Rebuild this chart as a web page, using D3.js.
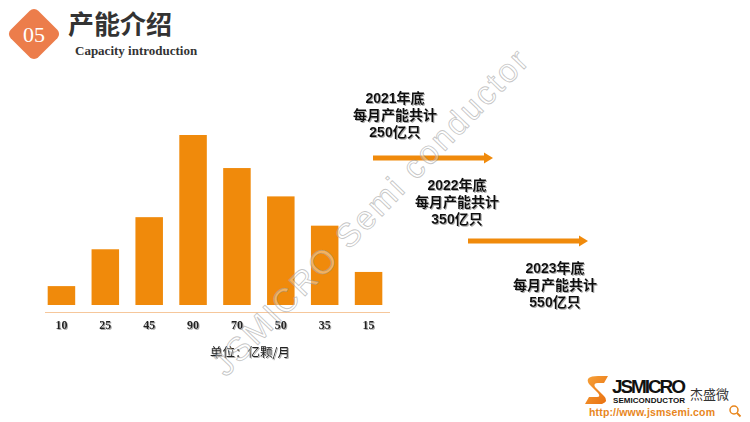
<!DOCTYPE html>
<html><head><meta charset="utf-8">
<script src="https://cdn.jsdelivr.net/npm/d3@7"></script>
<style>
html,body{margin:0;padding:0;background:#fff;}
svg{display:block;}
</style></head>
<body>
<svg id="c" width="750" height="422"></svg>
<script>
// ---- data ----
const categories = ["c1","c2","c3","c4","c5","c6","c7","c8"];
const tickLabels = ["10","25","45","90","70","50","35","15"];
const barValues = [10, 29.5, 46.5, 90, 72.5, 57.5, 42, 17.5];
const unitLabel = "单位：亿颗/月";
const milestoneYears = ["2021年底","2022年底","2023年底"];
const milestoneTotals = ["250亿只","350亿只","550亿只"];
const milestoneMid = "每月产能共计";

const svg = d3.select("#c");
const orange = "#F08A0B";
const defs = svg.append("defs");
const f = defs.append("filter").attr("id","sh").attr("x","-10%").attr("y","-20%").attr("width","130%").attr("height","150%");
f.append("feDropShadow").attr("dx",1).attr("dy",1).attr("stdDeviation",0.7)
  .attr("flood-color","#888").attr("flood-opacity",0.7);

// ---- header ----
const hdr = svg.append("g");
hdr.append("rect").attr("x",-19.5).attr("y",-19.5).attr("width",39).attr("height",39)
  .attr("rx",6).attr("fill","#EC7D4B")
  .attr("transform","translate(34,34) rotate(45)");
hdr.append("text").attr("x",34).attr("y",42).attr("text-anchor","middle")
  .attr("font-family","Liberation Serif, serif").attr("font-size",22).attr("fill","#fff").text("05");
hdr.append("text").attr("x",68).attr("y",34)
  .attr("font-family","Noto Sans CJK SC, sans-serif").attr("font-weight","bold")
  .attr("font-size",26).attr("fill","#333").text("产能介绍");
hdr.append("text").attr("x",75).attr("y",55)
  .attr("font-family","Liberation Serif, serif").attr("font-weight","bold")
  .attr("font-size",13).attr("fill","#333").text("Capacity introduction");

// ---- bar chart ----
const x = d3.scaleBand().domain(categories).range([39.5, 390.5])
  .paddingInner(0.373).paddingOuter(0.1865);
const y = d3.scaleLinear().domain([0, 90]).range([305, 135]);

svg.append("g").selectAll("rect").data(barValues).join("rect")
  .attr("x",(d,i)=>x(categories[i]))
  .attr("y",d=>y(d))
  .attr("width",x.bandwidth())
  .attr("height",d=>y(0)-y(d))
  .attr("fill",orange);

const axis = d3.axisBottom(x).tickSize(0).tickPadding(8)
  .tickFormat((d,i)=>tickLabels[i]);
const ag = svg.append("g").attr("transform","translate(0,312.5)").call(axis);
ag.select(".domain").attr("stroke","#F6C79B").attr("stroke-width",1.2)
  .attr("d","M45,0H390");
ag.selectAll("text").attr("font-family","Liberation Serif, serif")
  .attr("font-weight","bold").attr("filter","url(#sh)")
  .attr("font-size",12).attr("fill","#222");

svg.append("text").attr("x",250).attr("y",357).attr("text-anchor","middle")
  .attr("font-family","Noto Sans CJK SC, sans-serif").attr("font-size",12.5)
  .attr("filter","url(#sh)")
  .attr("fill","#222").text(unitLabel);

// ---- milestones ----
const ms = [
  {cx:395, y0:98, ax0:373, ax1:493, ay:158},
  {cx:457, y0:185, ax0:468, ax1:588, ay:241},
  {cx:555, y0:268, ax0:null}
];

ms.forEach((m,i)=>{
  const g = svg.append("g").attr("filter","url(#sh)")
    .attr("font-weight","bold").attr("font-size",14).attr("fill","#111")
    .attr("text-anchor","middle");
  const lines = [milestoneYears[i], milestoneMid, milestoneTotals[i]];
  lines.forEach((t,k)=>{
    g.append("text").attr("x",m.cx).attr("y",m.y0+5+k*17)
      .attr("font-family","Liberation Sans, Noto Sans CJK SC, sans-serif").text(t);
  });
  if(m.ax0!==null){
    svg.append("rect").attr("x",m.ax0).attr("y",m.ay-2.5).attr("width",m.ax1-m.ax0-8).attr("height",5).attr("fill",orange);
    svg.append("path").attr("d",`M${m.ax1-9},${m.ay-5.5}L${m.ax1},${m.ay}L${m.ax1-9},${m.ay+5.5}Z`).attr("fill",orange);
  }
});

// ---- logo ----
const lg = svg.append("g");
const grad = defs.append("linearGradient").attr("id","sg").attr("x1","0").attr("y1","0").attr("x2","1").attr("y2","1");
grad.append("stop").attr("offset","0").attr("stop-color","#F7A33A");
grad.append("stop").attr("offset","1").attr("stop-color","#E86F10");
lg.append("path")
  .attr("d","M598,376 L608,376 L604,383 L598,383 Q593,383 595,387 L604,396 Q609,401 602,404 L585,404 L589,397 L597,397 Q601,397 598,393 L589,384 Q584,376 598,376 Z")
  .attr("fill","url(#sg)");
lg.append("text").attr("x",612).attr("y",393).attr("font-family","Liberation Sans, sans-serif")
  .attr("font-weight","bold").attr("font-size",19).attr("fill","#111").attr("textLength",74).text("JSMICRO");
lg.append("text").attr("x",613).attr("y",403).attr("font-family","Liberation Sans, sans-serif")
  .attr("font-weight","bold").attr("font-size",8).attr("fill","#111").attr("textLength",72).text("SEMICONDUCTOR");
lg.append("text").attr("x",690).attr("y",399).attr("font-family","Noto Sans CJK SC, sans-serif")
  .attr("font-size",13).attr("fill","#333").text("杰盛微");
lg.append("text").attr("x",589).attr("y",416).attr("font-family","Liberation Sans, sans-serif")
  .attr("font-weight","bold").attr("font-size",10.5).attr("fill","#E8861C").attr("textLength",126).text("http://www.jsmsemi.com");
lg.append("circle").attr("cx",734).attr("cy",410).attr("r",4).attr("fill","none").attr("stroke","#E8861C").attr("stroke-width",1.5);
lg.append("line").attr("x1",737).attr("y1",413).attr("x2",740.5).attr("y2",416.5).attr("stroke","#E8861C").attr("stroke-width",1.8);

// ---- watermark ----
svg.append("text").attr("transform","translate(226,378) rotate(-46)")
  .attr("font-family","Liberation Sans, sans-serif").attr("font-size",33)
  .attr("fill","rgba(255,255,255,0.35)").attr("stroke","rgba(150,150,150,0.55)").attr("stroke-width",0.9)
  .attr("textLength",438).attr("lengthAdjust","spacing")
  .text("JSMICRO Semi conductor");
</script>
</body></html>
